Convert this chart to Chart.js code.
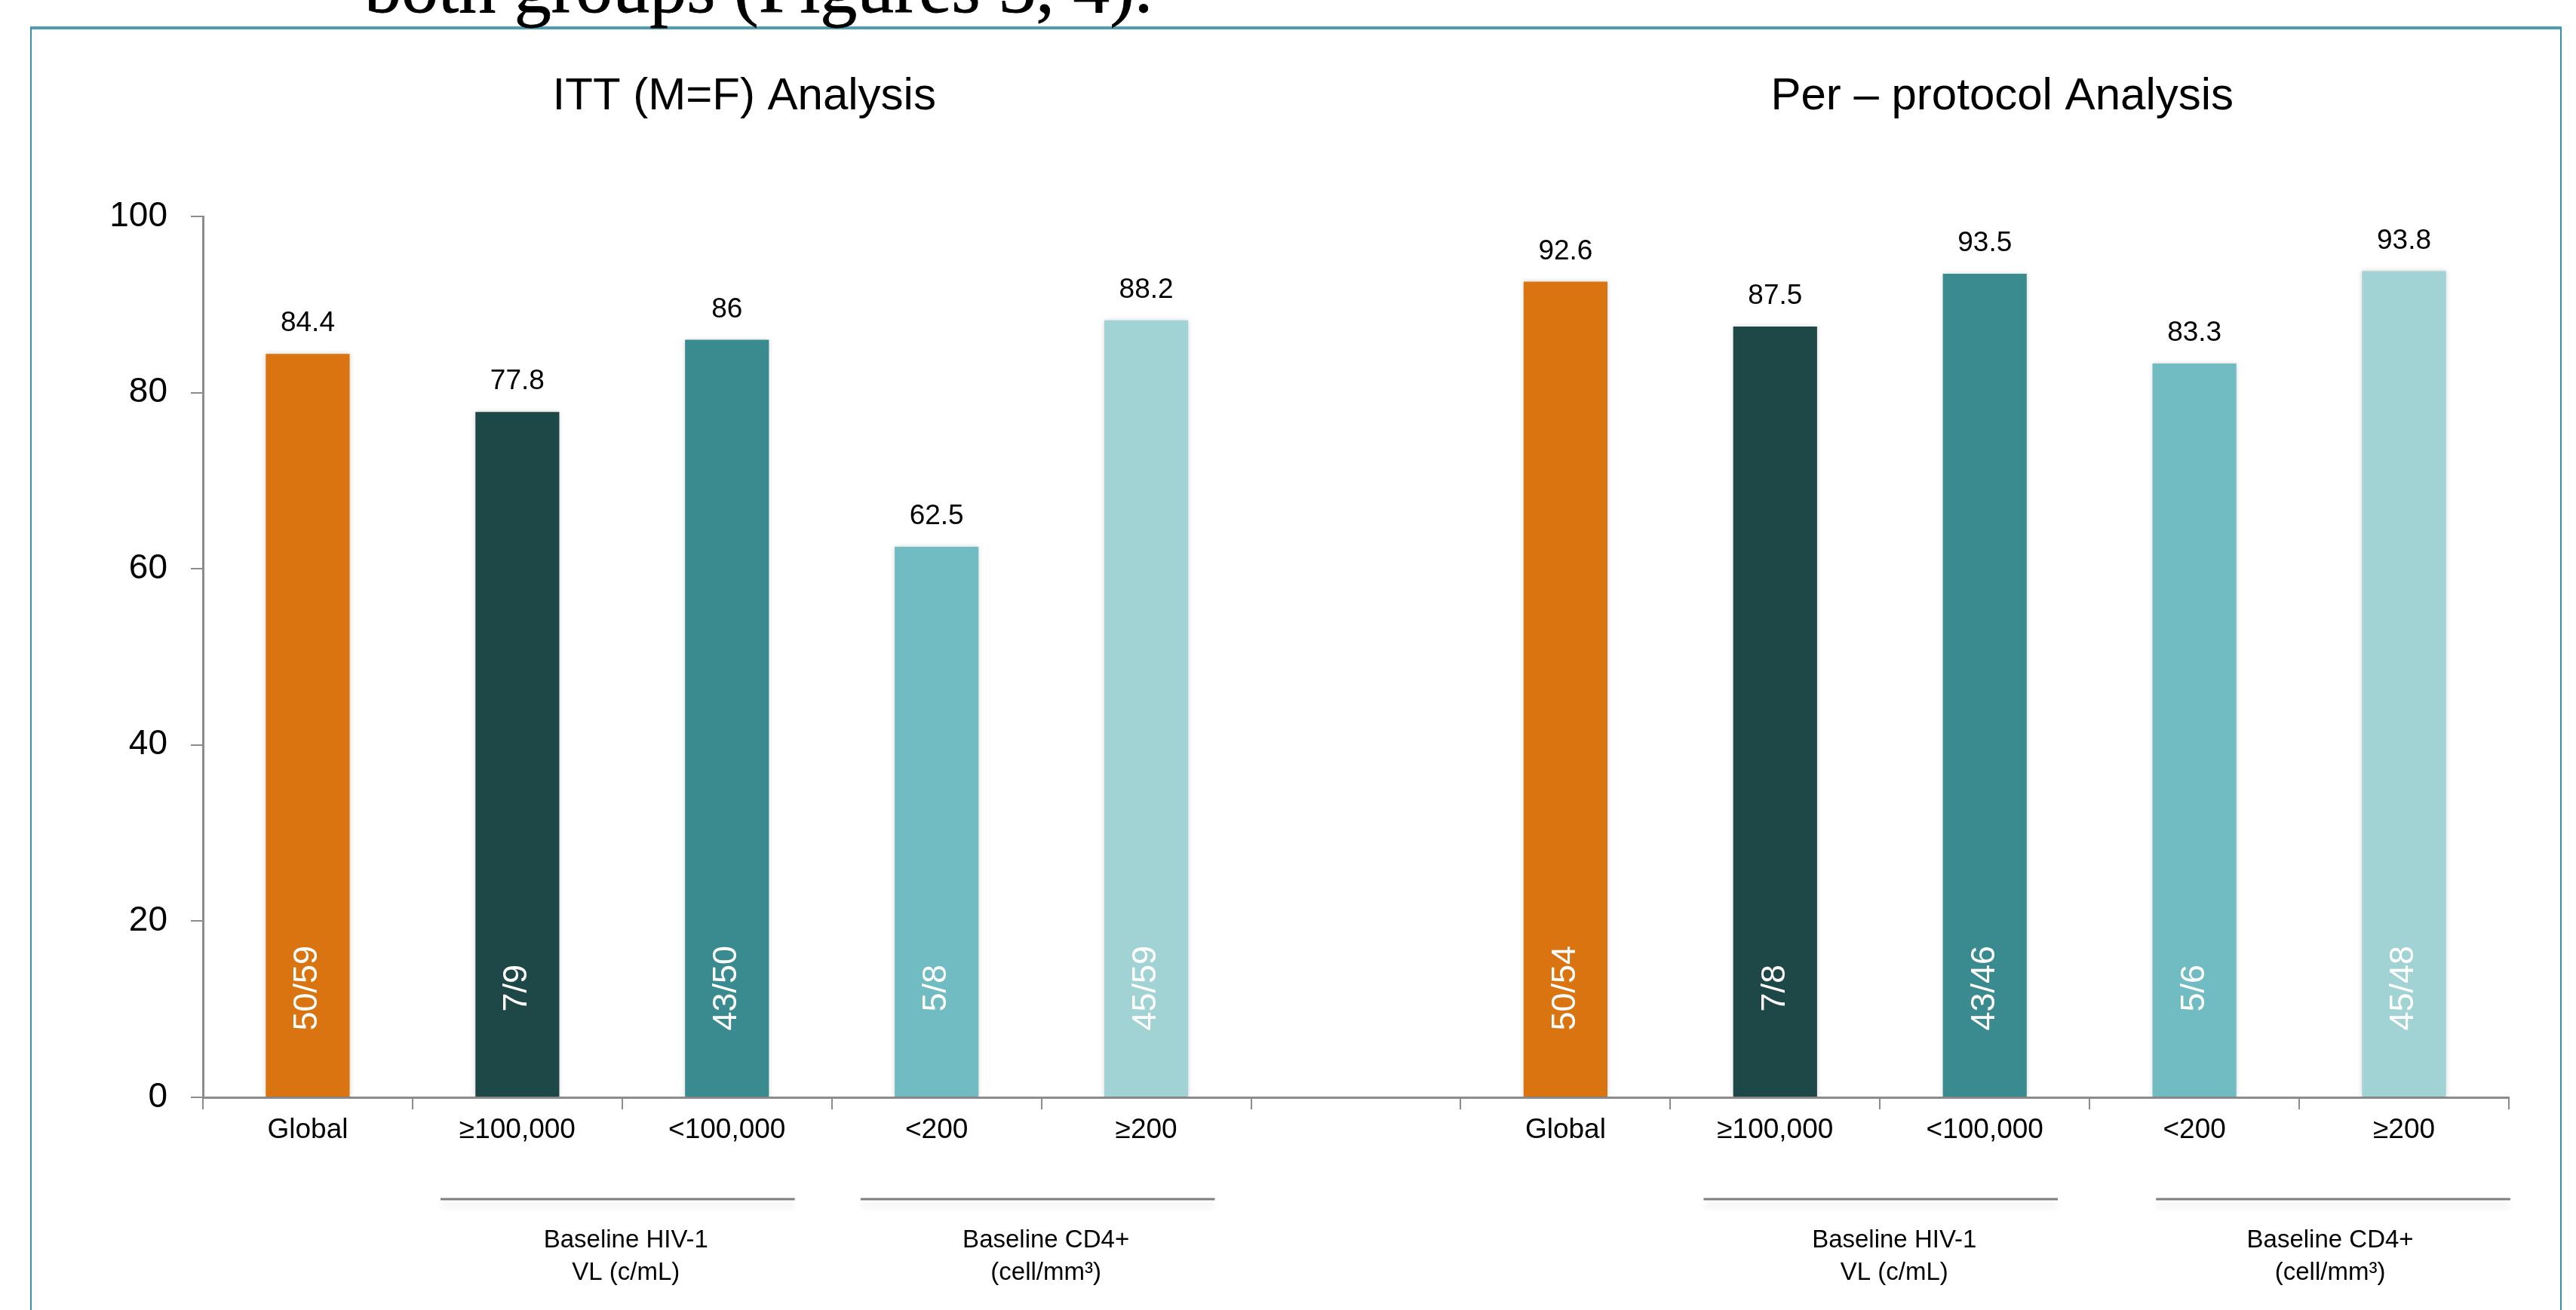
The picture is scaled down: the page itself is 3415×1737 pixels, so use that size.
<!DOCTYPE html>
<html>
<head>
<meta charset="utf-8">
<script src="https://cdn.jsdelivr.net/npm/chart.js@4.4.0/dist/chart.umd.min.js"></script>
<style>
  html, body { margin: 0; padding: 0; background: #fff; overflow: hidden; }
  #wrap { position: relative; width: 3415px; height: 1737px; }
  #chart { position: absolute; left: 0; top: 0; }
  #frame {
    position: absolute; left: 40px; top: 35px; width: 3356px; height: 1800px;
    border-top: 4px solid #4d9db3; border-left: 2px solid #3a90a6; border-right: 2px solid #3a90a6;
    box-sizing: border-box;
  }
</style>
</head>
<body>
<div id="wrap">
  <div id="frame"></div>
  <canvas id="chart" width="3415" height="1737"></canvas>
</div>
<script>
const LEAD_TEXT  = "both groups (Figures 3, 4).";
const CATEGORIES = ["Global", "≥100,000", "<100,000", "<200", "≥200", "",
                    "Global", "≥100,000", "<100,000", "<200", "≥200"];
const VALUES     = [84.4, 77.8, 86, 62.5, 88.2, null, 92.6, 87.5, 93.5, 83.3, 93.8];
const FRACTIONS  = ["50/59", "7/9", "43/50", "5/8", "45/59", "",
                    "50/54", "7/8", "43/46", "5/6", "45/48"];
const BAR_COLORS = ["#d97410", "#1e4747", "#3a8b8f", "#71bcc3", "#a1d3d4", "#ffffff",
                    "#d97410", "#1e4747", "#3a8b8f", "#71bcc3", "#a1d3d4"];
const Y_MIN = 0, Y_MAX = 100, Y_STEP = 20;

const PANEL_TITLES = ["ITT (M=F) Analysis", "Per – protocol Analysis"];
const PANEL_RANGES = [[0, 4], [6, 10]];

const GROUP_LABELS = [
  ["Baseline HIV-1", "VL (c/mL)"],
  ["Baseline CD4+", "(cell/mm³)"],
  ["Baseline HIV-1", "VL (c/mL)"],
  ["Baseline CD4+", "(cell/mm³)"],
];
const GROUP_RANGES = [[1, 2], [3, 4], [7, 8], [9, 10]];

// drawing style
const FONT = "'Liberation Sans', Arial, Helvetica, sans-serif";
const AXIS_COLOR = "#8c8c8c";
const FRACTION_AT = 12.4;
const GROUP_NUDGE = [{ line: -6, text: 5 }, { line: -5, text: 6 }, { line: 1, text: 19 }, { line: 45, text: 41 }];

const overlay = {
  id: "overlay",
  beforeDatasetsDraw(chart) {
    const ctx = chart.ctx;
    ctx.save();
    ctx.shadowColor = "rgba(0,0,0,0.18)";
    ctx.shadowBlur = 6;
  },
  afterDatasetsDraw(chart) {
    chart.ctx.restore();
  },
  afterDraw(chart) {
    const ctx = chart.ctx;
    const xs = chart.scales.x, ys = chart.scales.y;
    const bars = chart.getDatasetMeta(0).data;
    const slot = xs.getPixelForValue(1) - xs.getPixelForValue(0);
    ctx.save();

    // cut-off sentence from the page above the figure
    ctx.fillStyle = "#000";
    ctx.strokeStyle = "#000";
    ctx.lineWidth = 0.8;
    ctx.textAlign = "left";
    ctx.textBaseline = "alphabetic";
    ctx.font = "98px 'Liberation Serif', 'DejaVu Serif', serif";
    ctx.fillText(LEAD_TEXT, 483, 16);
    ctx.strokeText(LEAD_TEXT, 483, 16);

    // values above bars
    ctx.textAlign = "center";
    ctx.textBaseline = "middle";
    ctx.font = `37px ${FONT}`;
    VALUES.forEach((v, i) => {
      if (v == null) return;
      ctx.fillText(String(v), bars[i].x, bars[i].y - 40);
    });

    // n/N inside bars, rotated
    ctx.fillStyle = "#fff";
    ctx.font = `45px ${FONT}`;
    const fy = ys.getPixelForValue(FRACTION_AT);
    FRACTIONS.forEach((t, i) => {
      if (!t) return;
      ctx.save();
      ctx.translate(bars[i].x, fy);
      ctx.rotate(-Math.PI / 2);
      ctx.fillText(t, 0, 0);
      ctx.restore();
    });

    // panel titles
    ctx.fillStyle = "#000";
    ctx.font = `60px ${FONT}`;
    PANEL_TITLES.forEach((t, i) => {
      const [a, b] = PANEL_RANGES[i];
      const cx = (xs.getPixelForValue(a) + xs.getPixelForValue(b)) / 2 + 23;
      ctx.fillText(t, cx, 128);
    });

    // group brackets
    GROUP_RANGES.forEach(([a, b], i) => {
      const mid = (xs.getPixelForValue(a) + xs.getPixelForValue(b)) / 2;
      const half = slot * 0.845;
      const lc = mid + GROUP_NUDGE[i].line;
      ctx.save();
      ctx.strokeStyle = "#7f7f7f";
      ctx.lineWidth = 3;
      ctx.shadowColor = "rgba(0,0,0,0.12)";
      ctx.shadowBlur = 10;
      ctx.shadowOffsetY = 8;
      ctx.beginPath();
      ctx.moveTo(lc - half, 1590);
      ctx.lineTo(lc + half, 1590);
      ctx.stroke();
      ctx.restore();
      ctx.fillStyle = "#000";
      ctx.font = `33px ${FONT}`;
      const tc = mid + GROUP_NUDGE[i].text;
      ctx.fillText(GROUP_LABELS[i][0], tc, 1645);
      ctx.fillText(GROUP_LABELS[i][1], tc, 1688);
    });
    ctx.restore();
  },
};

new Chart(document.getElementById("chart"), {
  type: "bar",
  data: {
    labels: CATEGORIES,
    datasets: [{
      data: VALUES,
      backgroundColor: BAR_COLORS,
      borderWidth: 0,
      barPercentage: 0.4,
      categoryPercentage: 1.0,
    }],
  },
  options: {
    responsive: false,
    animation: false,
    devicePixelRatio: 1,
    layout: { padding: { top: 287, right: 89, left: 0, bottom: 0 } },
    plugins: { legend: { display: false }, tooltip: { enabled: false } },
    scales: {
      x: {
        afterFit: s => { s.height = 282; },
        grid: { display: true, drawOnChartArea: false, drawTicks: true, tickLength: 16, color: AXIS_COLOR, lineWidth: 2, offset: true },
        border: { display: true, color: AXIS_COLOR, width: 3 },
        ticks: { color: "#000", font: { family: FONT, size: 37 }, padding: 6, maxRotation: 0, autoSkip: false },
      },
      y: {
        min: Y_MIN,
        max: Y_MAX,
        afterFit: s => { s.width = 269; },
        grid: { display: true, drawOnChartArea: false, drawTicks: true, tickLength: 16, color: AXIS_COLOR, lineWidth: 2 },
        border: { display: true, color: AXIS_COLOR, width: 3 },
        ticks: { stepSize: Y_STEP, color: "#000", font: { family: FONT, size: 46 }, padding: 31 },
      },
    },
  },
  plugins: [overlay],
});
</script>
</body>
</html>
